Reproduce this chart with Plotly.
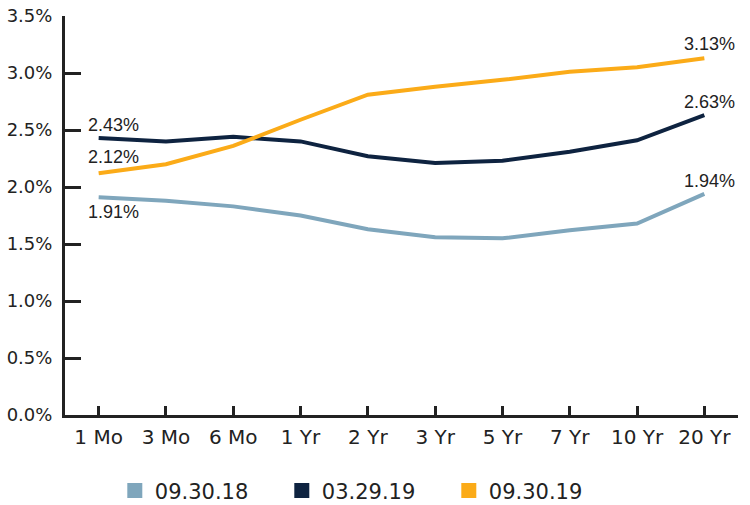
import plotly.graph_objects as go

categories = ["1 Mo", "3 Mo", "6 Mo", "1 Yr", "2 Yr", "3 Yr", "5 Yr", "7 Yr", "10 Yr", "20 Yr"]
series_names = ["09.30.18", "03.29.19", "09.30.19"]
s_093018 = [1.91, 1.88, 1.83, 1.75, 1.63, 1.56, 1.55, 1.62, 1.68, 1.94]
s_032919 = [2.43, 2.40, 2.44, 2.40, 2.27, 2.21, 2.23, 2.31, 2.41, 2.63]
s_093019 = [2.12, 2.20, 2.36, 2.59, 2.81, 2.88, 2.94, 3.01, 3.05, 3.13]
colors = ["#7fa6bc", "#0e2340", "#fbab18"]
y_ticks = [0.0, 0.5, 1.0, 1.5, 2.0, 2.5, 3.0, 3.5]
y_tick_labels = [f"{v:.1f}%" for v in y_ticks]

all_series = [s_093018, s_032919, s_093019]

fig = go.Figure()
for name, vals, col in zip(series_names, all_series, colors):
    fig.add_trace(go.Scatter(x=categories, y=vals, mode="lines", name=name,
                             line=dict(color=col, width=4), showlegend=False,
                             hoverinfo="skip"))
for name, col in zip(series_names, colors):
    fig.add_trace(go.Scatter(x=[None], y=[None], mode="markers", name=name,
                             marker=dict(symbol="square", size=15, color=col),
                             showlegend=True))

# data labels: first and last points
label_shifts_first = [(15, -15), (15, 13), (15, 16)]
label_shifts_last = [(5, 13), (5, 13), (5, 14)]
for vals, (fx, fy), (lx, ly) in zip(all_series, label_shifts_first, label_shifts_last):
    fig.add_annotation(x=categories[0], y=vals[0], text=f"{vals[0]:.2f}%",
                       showarrow=False, xshift=fx, yshift=fy,
                       font=dict(family="Liberation Sans", size=18, color="#222222"))
    fig.add_annotation(x=categories[-1], y=vals[-1], text=f"{vals[-1]:.2f}%",
                       showarrow=False, xshift=lx, yshift=ly,
                       font=dict(family="Liberation Sans", size=18, color="#222222"))

fig.update_layout(
    width=750, height=505,
    margin=dict(l=65, r=12, t=16, b=90, autoexpand=False),
    paper_bgcolor="white", plot_bgcolor="white",
    showlegend=True,
    legend=dict(orientation="h", x=0.074, xanchor="left", y=-0.19, yanchor="middle",
                font=dict(family="DejaVu Sans", size=21, color="#222222"),
                entrywidth=122, entrywidthmode="pixels", itemsizing="trace"),
    xaxis=dict(type="category", range=[-0.5, 9.5], showgrid=False, zeroline=False,
               showline=True, linecolor="#222222", linewidth=3, automargin=False,
               ticks="inside", ticklen=9, tickwidth=3, tickcolor="#222222",
               tickfont=dict(family="DejaVu Sans", size=20, color="#222222"),
               ticklabelstandoff=2),
    yaxis=dict(range=[0, 3.5], tickmode="array", tickvals=y_ticks, ticktext=y_tick_labels,
               showgrid=False, zeroline=False, automargin=False,
               showline=True, linecolor="#222222", linewidth=3,
               ticks="inside", ticklen=16, tickwidth=3, tickcolor="#222222",
               tickfont=dict(family="DejaVu Sans", size=18, color="#222222"),
               ticklabelstandoff=6),
)

fig.write_html("out.html", config={"displayModeBar": False},
               post_script="document.body.style.margin='0';document.body.style.overflow='hidden';")
